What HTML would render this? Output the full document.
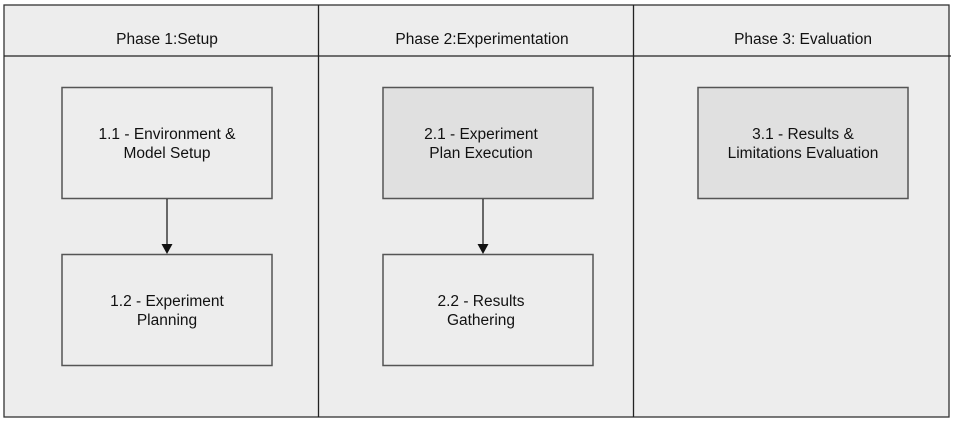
<!DOCTYPE html>
<html><head><style>
body{margin:0;background:#fff;width:956px;height:424px;overflow:hidden;font-family:"Liberation Sans",Arial,sans-serif}
</style></head><body>
<svg width="956" height="424" xmlns="http://www.w3.org/2000/svg" font-family="Liberation Sans, Arial, sans-serif" font-size="15.5" fill="#111">
<rect x="4" y="5" width="945" height="412" fill="#ededed" stroke="#333" stroke-width="1.3"/>
<line x1="4" y1="56" x2="951" y2="56" stroke="#222" stroke-width="1.3"/>
<line x1="318.5" y1="5" x2="318.5" y2="417" stroke="#222" stroke-width="1.3"/>
<line x1="633.5" y1="5" x2="633.5" y2="417" stroke="#222" stroke-width="1.3"/>
<text x="167" y="44" text-anchor="middle">Phase 1:Setup</text>
<text x="482" y="44" text-anchor="middle">Phase 2:Experimentation</text>
<text x="803" y="44" text-anchor="middle">Phase 3: Evaluation</text>
<g stroke="#555" stroke-width="1.5">
<rect x="62" y="87.5" width="210" height="111" fill="#ededed"/>
<rect x="62" y="254.5" width="210" height="111" fill="#ededed"/>
<rect x="383" y="87.5" width="210" height="111" fill="#e0e0e0"/>
<rect x="383" y="254.5" width="210" height="111" fill="#ededed"/>
<rect x="698" y="87.5" width="210" height="111" fill="#e0e0e0"/>
</g>
<g stroke="#111" stroke-width="1.2">
<line x1="167" y1="199" x2="167" y2="246"/>
<line x1="483" y1="199" x2="483" y2="246"/>
</g>
<polygon points="161.5,244 172.5,244 167,254" fill="#111"/>
<polygon points="477.5,244 488.5,244 483,254" fill="#111"/>
<g text-anchor="middle">
<text x="167" y="139">1.1 - Environment &amp;</text>
<text x="167" y="158">Model Setup</text>
<text x="167" y="306">1.2 - Experiment</text>
<text x="167" y="325">Planning</text>
<text x="481" y="139">2.1 - Experiment</text>
<text x="481" y="158">Plan Execution</text>
<text x="481" y="306">2.2 - Results</text>
<text x="481" y="325">Gathering</text>
<text x="803" y="139">3.1 - Results &amp;</text>
<text x="803" y="158">Limitations Evaluation</text>
</g>
</svg>
</body></html>
